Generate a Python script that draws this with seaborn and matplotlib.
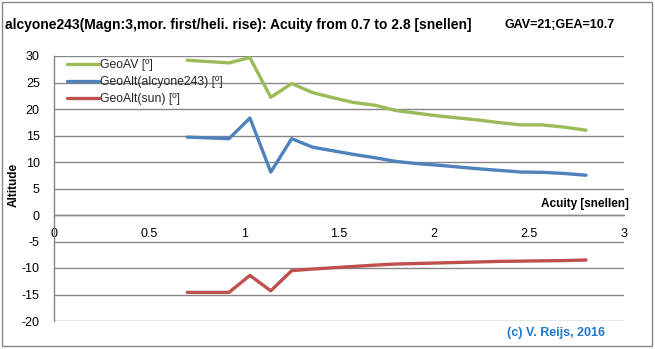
import matplotlib
matplotlib.use("Agg")
import matplotlib.pyplot as plt
from matplotlib import font_manager
from matplotlib.lines import Line2D
from matplotlib.patches import Rectangle
import pandas as pd
import seaborn as sns

# Acuity steps (snellen) and computed altitudes (degrees)
acuity = [0.70, 0.92, 1.03, 1.14, 1.25, 1.36, 1.47, 1.58, 1.69, 1.80,
          1.91, 2.02, 2.13, 2.24, 2.35, 2.46, 2.57, 2.68, 2.80]
geo_av = [29.2, 28.7, 29.7, 22.2, 24.8, 23.1, 22.1, 21.2, 20.7, 19.7,
          19.2, 18.7, 18.3, 17.9, 17.4, 17.0, 17.0, 16.6, 16.0]
geo_alt_star = [14.7, 14.4, 18.3, 8.1, 14.4, 12.8, 12.1, 11.4, 10.8, 10.1,
                9.7, 9.4, 9.05, 8.7, 8.4, 8.1, 8.05, 7.85, 7.5]
geo_alt_sun = [-14.6, -14.6, -11.4, -14.3, -10.5, -10.2, -9.95, -9.7, -9.45, -9.25,
               -9.15, -9.05, -8.95, -8.85, -8.75, -8.7, -8.65, -8.6, -8.5]

series_names = ["GeoAV [º]", "GeoAlt(alcyone243) [º]", "GeoAlt(sun) [º]"]
series_colors = ["#9BBB59", "#4F81BD", "#C0504D"]
x_ticks = [0, 0.5, 1, 1.5, 2, 2.5, 3]
x_tick_labels = ["0", "0.5", "1", "1.5", "2", "2.5", "3"]
y_ticks = [-20, -15, -10, -5, 0, 5, 10, 15, 20, 25, 30]

title = "alcyone243(Magn:3,mor. first/heli. rise): Acuity from 0.7 to 2.8 [snellen]"
subtitle = "GAV=21;GEA=10.7"
credit = "(c) V. Reijs, 2016"


def pick_family(names):
    for name in names:
        try:
            font_manager.findfont(font_manager.FontProperties(family=name),
                                  fallback_to_default=False)
            return name
        except Exception:
            continue
    return "DejaVu Sans"


sns.set_theme(style="white")
family = pick_family(["Liberation Sans Narrow", "Liberation Sans", "DejaVu Sans"])
plt.rcParams["font.family"] = [family, "DejaVu Sans"]

df = pd.concat([
    pd.DataFrame({"acuity": acuity, "alt": vals, "series": name})
    for name, vals in zip(series_names, [geo_av, geo_alt_star, geo_alt_sun])
], ignore_index=True)

W, H = 655, 349
fig = plt.figure(figsize=(W / 100, H / 100), dpi=100)
left, right, top, bottom = 54.3, 624.0, 56.0, 321.0
ax = fig.add_axes([left / W, 1 - bottom / H, (right - left) / W, (bottom - top) / H])

sns.lineplot(data=df, x="acuity", y="alt", hue="series", hue_order=series_names,
             palette=series_colors, linewidth=2.4, ax=ax, legend=False, sort=False)

grid_c = "#868686"
ax.set_xlim(0, 3)
ax.set_ylim(-20, 30)
ax.set_yticks(y_ticks)
ax.set_yticklabels([str(v) for v in y_ticks])
ax.set_xticks(x_ticks)
ax.set_xticklabels(x_tick_labels)
ax.yaxis.grid(True, color=grid_c, linewidth=1.0)
ax.xaxis.grid(False)
ax.set_axisbelow(True)
for side in ["top", "right"]:
    ax.spines[side].set_visible(False)
ax.spines["left"].set_color(grid_c)
ax.spines["left"].set_linewidth(1.0)
ax.spines["bottom"].set_position(("data", 0))
ax.spines["bottom"].set_color(grid_c)
ax.spines["bottom"].set_linewidth(1.0)
ax.tick_params(axis="y", direction="out", length=3.5, width=1.0, color=grid_c,
               labelsize=9, pad=7, labelcolor="black")
ax.tick_params(axis="x", direction="out", length=3.5, width=1.0, color=grid_c,
               labelsize=9, pad=5.5, labelcolor="black")
ax.set_xlabel("")
ax.set_ylabel("")

handles = [Line2D([0], [0], color=c, lw=2.4) for c in series_colors]
leg = ax.legend(handles, series_names, loc="upper left", bbox_to_anchor=(0.01, 1.015),
                frameon=False, fontsize=8.8, handlelength=2.6, handletextpad=0.1,
                labelspacing=0.4, borderaxespad=0.2)

bold = dict(fontweight="bold", color="black")
fig.text(5 / W, 1 - 25 / H, title, fontsize=10, va="center", ha="left", **bold)
fig.text(615 / W, 1 - 25 / H, subtitle, fontsize=9, va="center", ha="right", **bold)
fig.text(629 / W, 1 - 204 / H, "Acuity [snellen]", fontsize=8.5, va="center", ha="right", **bold)
fig.text(14 / W, 1 - 185 / H, "Altitude", fontsize=8.5, rotation=90, va="center",
         ha="center", **bold)
fig.text(605 / W, 1 - 333 / H, credit, fontsize=9, va="center", ha="right",
         fontweight="bold", color="#1F78C8")

fig.add_artist(Rectangle((2 / W, 3 / H), 650 / W, 344 / H, transform=fig.transFigure,
                         fill=False, edgecolor=grid_c, linewidth=1.0))

fig.savefig("out.png", dpi=100, facecolor="white")
